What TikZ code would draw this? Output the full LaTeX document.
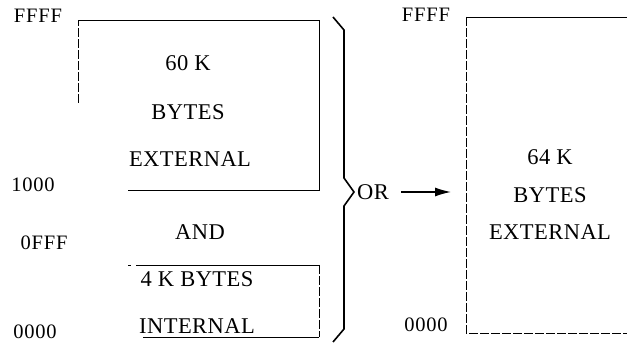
\documentclass[tikz,border=0pt]{standalone}
\usepackage{fontspec}
\setmainfont{Liberation Serif}
\usetikzlibrary{arrows.meta}
\begin{document}
\begin{tikzpicture}[x=1pt,y=-1pt,
  addr/.style={font=\fontsize{20.5}{20.5}\selectfont\addfontfeature{LetterSpace=4}, inner sep=0pt},
  memtext/.style={font=\fontsize{22.5}{22.5}\selectfont\addfontfeature{LetterSpace=2}, inner sep=0pt},
  edge/.style={line width=0.8pt},
  brokenedge/.style={line width=0.8pt, dash pattern=on 9pt off 2pt},
  bracestroke/.style={line width=1.6pt, line join=miter},
  pointer/.style={line width=1.3pt, -{Latex[length=16pt,width=9pt]}}]
\useasboundingbox (0,0) rectangle (627,344);

% left column: external 60K block
\coordinate (ut) at (78,20);
\coordinate (ur) at (319,20);
\coordinate (ub) at (319,190);
\draw[brokenedge] (78,103) -- (ut);
\draw[edge] (ut) -- (ur) -- (ub) -- (128,190);

\node[addr] (ffffL) at (38,16) {FFFF};
\node[addr] (k1000) at (33,185) {1000};
\node[memtext] (sixty) at (188,63) {60 K};
\node[memtext] (bytesA) at (188,112) {BYTES};
\node[memtext] (extA) at (190,159) {EXTERNAL};

\node[memtext] (and) at (200,232) {AND};

% left column: internal 4K block
\node[addr] (offf) at (44,243) {0FFF};
\node[addr] (k0000L) at (35,332) {0000};
\draw[edge] (136,265) -- (319,265);
\draw[brokenedge] (319,265) -- (319,337);
\draw[edge] (128,265) -- (131,265);
\draw[edge] (319,337) -- (143,337);
\node[memtext] (fourk) at (197,279) {4 K BYTES};
\node[memtext] (intl) at (197,326) {INTERNAL};

% brace joining the two alternatives on the left
\draw[bracestroke] (333,17) -- (344,30) -- (344,178) -- (354,192)
  -- (344,206) -- (344,329) -- (333,342);

\node[memtext, anchor=west] (or) at (357,192) {OR};
\coordinate (tip) at (451,192);
\draw[pointer] (or.east) ++(12,0) coordinate (tail) (tail) -- (tip);

% right column: 64K external block
\node[addr] (ffffR) at (426,15) {FFFF};
\node[addr] (k0000R) at (426,325) {0000};
\draw[edge] (627,17) -- (466,17);
\draw[brokenedge] (466,17) -- (466,333) -- (627,333);
\node[memtext] (sixfour) at (550,157) {64 K};
\node[memtext] (bytesB) at (550,195) {BYTES};
\node[memtext] (extB) at (550,232) {EXTERNAL};
\end{tikzpicture}
\end{document}
